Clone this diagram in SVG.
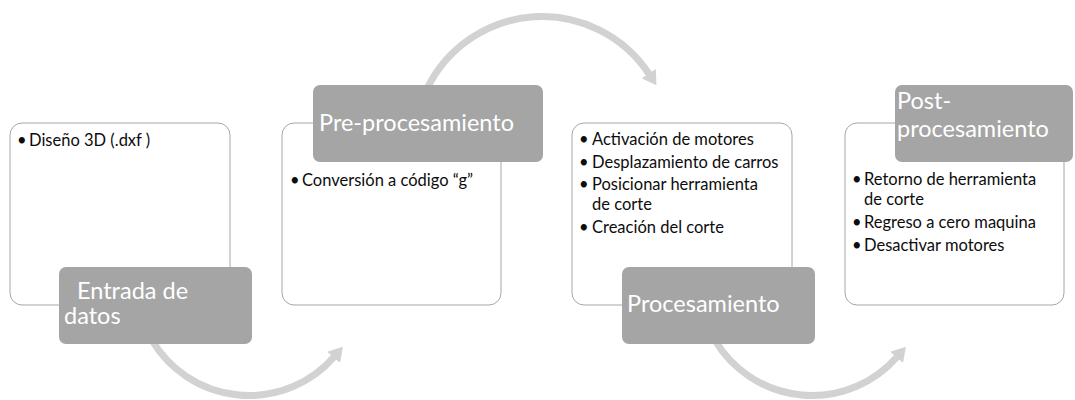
<svg xmlns="http://www.w3.org/2000/svg" width="1075" height="400" viewBox="0 0 1075 400">
<style>
.card{fill:#ffffff;stroke:#a6a6a6;stroke-width:1}
.tab{fill:#a5a5a5}
.title{font-family:Lato,"Liberation Sans",sans-serif;font-size:23.5px;fill:#ffffff}
.body{font-family:Lato,"Liberation Sans",sans-serif;font-size:16.5px;fill:#0d0d0d}
.arc{fill:none;stroke:#d2d2d2;stroke-width:7}
</style>
<defs>
<marker id="head" markerUnits="userSpaceOnUse" markerWidth="14" markerHeight="17" viewBox="0 0 14 17" refX="0.5" refY="8.5" orient="auto">
<path d="M0,0 L14,8.5 L0,17 z" fill="#d2d2d2"/>
</marker>
</defs>
<rect width="1075" height="400" fill="#ffffff"/>
<g id="connectors">
<path class="arc" d="M152,340.3 A113,113 0 0 0 334,357" marker-end="url(#head)"/>
<path class="arc" d="M427,88.8 A128,128 0 0 1 649,74" marker-end="url(#head)"/>
<path class="arc" d="M715,340.3 A113,113 0 0 0 897,357" marker-end="url(#head)"/>
</g>
<g id="entrada">
<rect class="card" x="10" y="123" width="220" height="182" rx="12"/>
<text class="body" x="17" y="146">•</text>
<text class="body" x="29" y="146">Diseño 3D (.dxf )</text>
<rect class="tab" x="59" y="267" width="193" height="77" rx="7"/>
<text class="title" x="77" y="299">Entrada de</text>
<text class="title" x="64" y="324">datos</text>
</g>
<g id="preprocesamiento">
<rect class="card" x="282" y="123" width="219" height="182" rx="12"/>
<rect class="tab" x="313" y="85" width="230" height="77" rx="7"/>
<text class="title" x="319" y="131">Pre-procesamiento</text>
<text class="body" x="290" y="186">•</text>
<text class="body" x="302" y="186">Conversión a código “g”</text>
</g>
<g id="procesamiento">
<rect class="card" x="572" y="123" width="220" height="182" rx="12"/>
<text class="body" x="579" y="145">•</text>
<text class="body" x="592" y="145">Activación de motores</text>
<text class="body" x="579" y="168">•</text>
<text class="body" x="592" y="168">Desplazamiento de carros</text>
<text class="body" x="579" y="190">•</text>
<text class="body" x="592" y="190">Posicionar herramienta</text>
<text class="body" x="592" y="210">de corte</text>
<text class="body" x="579" y="233">•</text>
<text class="body" x="592" y="233">Creación del corte</text>
<rect class="tab" x="622" y="267" width="193" height="77" rx="7"/>
<text class="title" x="627" y="312">Procesamiento</text>
</g>
<g id="postprocesamiento">
<rect class="card" x="845" y="123" width="219" height="182" rx="12"/>
<rect class="tab" x="895" y="85" width="178" height="77" rx="7"/>
<text class="title" x="897" y="109">Post-</text>
<text class="title" x="897" y="137">procesamiento</text>
<text class="body" x="852" y="185">•</text>
<text class="body" x="864" y="185">Retorno de herramienta</text>
<text class="body" x="864" y="205">de corte</text>
<text class="body" x="852" y="228">•</text>
<text class="body" x="864" y="228">Regreso a cero maquina</text>
<text class="body" x="852" y="251">•</text>
<text class="body" x="864" y="251">Desactivar motores</text>
</g>
</svg>
